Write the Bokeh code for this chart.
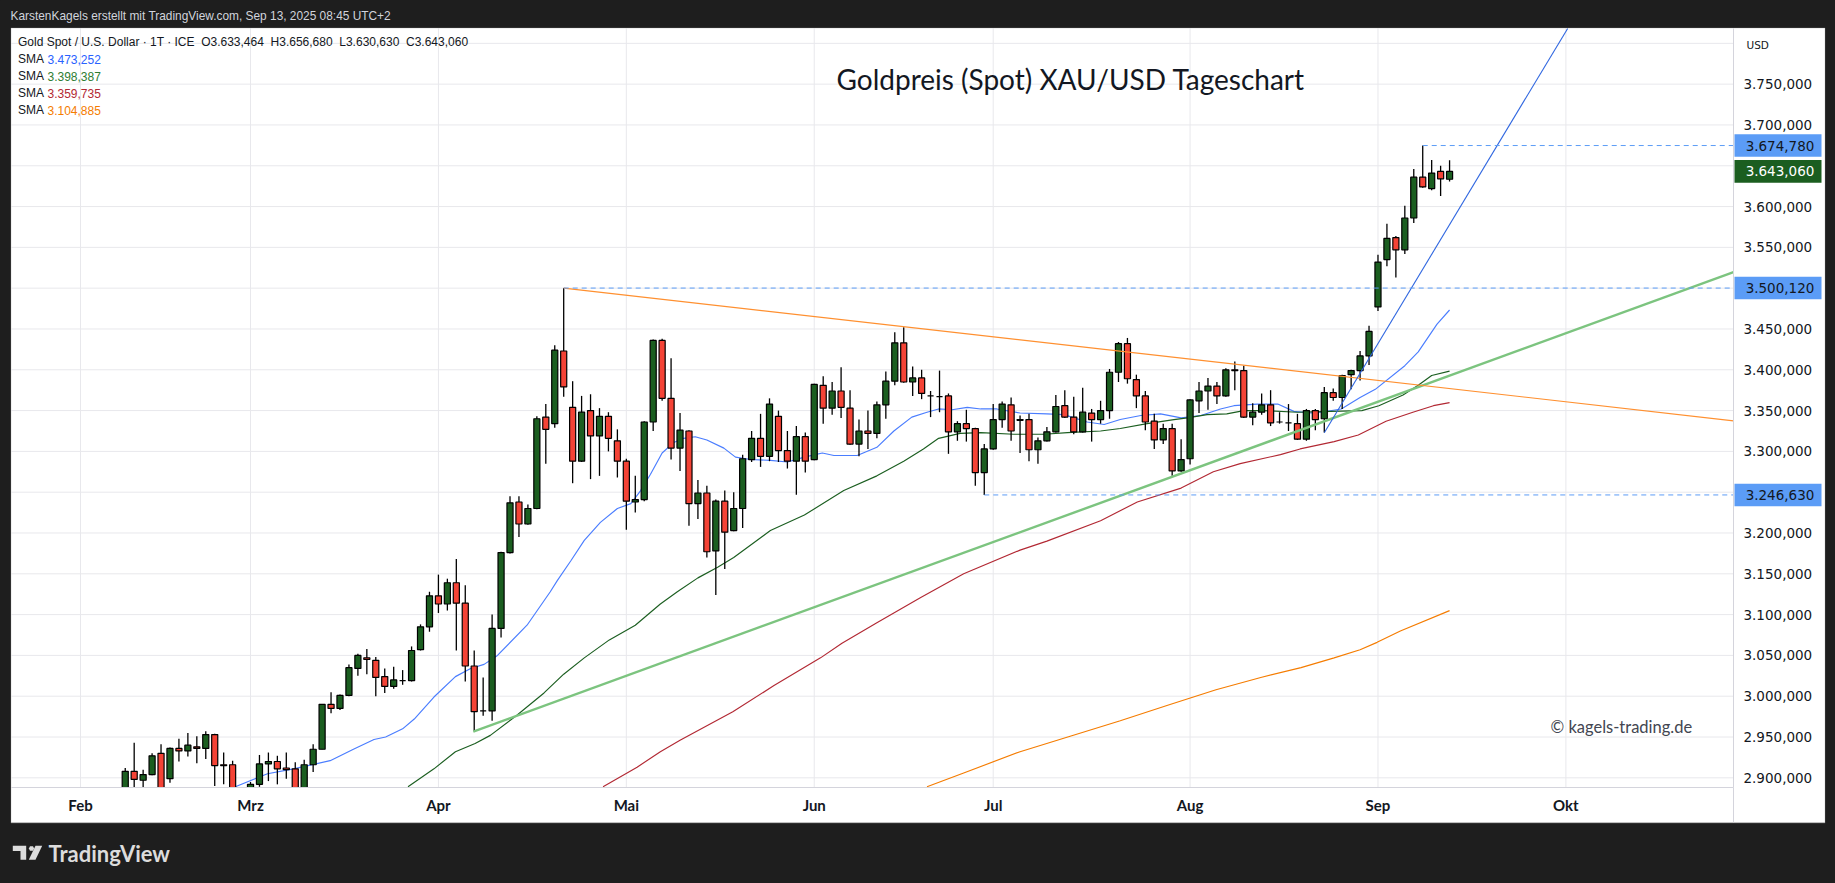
from bokeh.plotting import figure
from bokeh.models import (BoxAnnotation, Label, PolyAnnotation, FixedTicker, Range1d, ColumnDataSource, LinearAxis)
from bokeh.embed import file_html
from bokeh.resources import INLINE

# ---------- data ----------
first_bar = 5
opens = [2885,2908,2897,2904,2930,2899,2936,2933,2938,2936,2953,2916,2916,2878,2885,2892,2917,2920,2912,2911,2885,2916,2935,2990,2985,3001,3034,3047,3044,3024,3012,3019,3019,3057,3085,3123,3113,3139,3114,3037,2982,2982,3083,
3176,3238,3211,3230,3342,3334,3423,3354,3288,3350,3319,3343,3313,3288,3238,3241,3336,3436,3365,3304,3325,3236,3249,3178,3239,3203,3230,3290,3316,3294,3343,3301,3288,3318,3290,3381,3353,3374,3353,3309,3325,3322,3357,3386,
3433,3385,3390,3368,3367,3368,3324,3334,3328,3274,3303,3339,3357,3339,3339,3302,3313,3324,3356,3342,3324,3347,3339,3350,3397,3432,3388,3368,3337,3314,3328,3276,3291,3362,3374,3380,3368,3400,3399,3342,3348,3357,3336,3335,3334,3315,3350,3340,
3372,3366,3394,3399,3417,3477,3535,3562,3547,3586,3636,3622,3643,3633.464]
highs = [2912,2943,2910,2930,2941,2937,2948,2955,2951,2957,2954,2931,2921,2884,2895,2928,2931,2927,2931,2919,2922,2941,2990,3005,3002,3039,3052,3058,3048,3034,3036,3032,3061,3088,3128,3149,3144,3168,3136,3056,3023,3100,3177,
3245,3245,3235,3343,3358,3430,3500.12,3386,3368,3370,3353,3348,3327,3291,3270,3337,3437,3438,3414,3347,3326,3265,3258,3241,3252,3250,3296,3325,3346,3365,3350,3325,3331,3323,3383,3392,3385,3403,3375,3339,3350,3361,3398,3446,
3452,3404,3400,3374,3399,3371,3337,3351,3329,3309,3358,3361,3366,3344,3346,3317,3330,3369,3375,3367,3378,3352,3362,3401,3434,3439,3394,3374,3346,3334,3334,3315,3364,3385,3390,3385,3402,3410,3405,3359,3371,3375,3348,3358,3346,3352,3352,3379,
3377,3394,3400,3423,3454,3541,3579,3564,3601,3646,3674.78,3657,3650,3656.68]
lows = [2880,2885,2885,2903,2877,2894,2920,2926,2918,2923,2890,2892,2877,2868,2883,2889,2896,2892,2899,2880,2883,2907,2935,2979,2983,3000,3025,3027,3000,3004,3009,3014,3018,3056,3079,3102,3105,3056,3018,2957,2976,2970,3072,
3175,3195,3210,3229,3285,3329,3367,3261,3287,3266,3270,3300,3268,3204,3225,3239,3325,3362,3290,3276,3209,3217,3170,3124,3156,3202,3206,3287,3281,3288,3287,3279,3247,3274,3289,3334,3345,3341,3308,3294,3303,3316,3340,3381,
3384,3368,3364,3342,3348,3297,3313,3312,3258,3246.63,3302,3329,3313,3298,3288,3285,3312,3323,3341,3321,3323,3312,3334,3340,3385,3383,3353,3326,3303,3309,3270,3275,3284,3347,3351,3358,3367,3375,3341,3332,3345,3331,3334,3325,3314,3313,3326,3323,
3362,3352,3376,3387,3406,3472,3527,3513,3542,3580,3623,3620,3613,3630.63]
closes = [2908,2898,2904,2927,2881,2936,2933,2940,2936,2953,2915,2915,2881,2872,2892,2917,2920,2911,2910,2883,2916,2935,2990,2985,3001,3035,3050,3045,3023,3012,3020,3019,3056,3085,3123,3113,3139,3114,3037,2981,2982,3083,3176,
3237,3211,3230,3340,3327,3424,3379,3288,3348,3319,3343,3316,3288,3239,3241,3336,3436,3365,3304,3326,3236,3249,3177,3239,3201,3230,3291,3316,3294,3358,3301,3288,3318,3288,3382,3353,3374,3354,3309,3325,3322,3357,3386,3433,
3385,3390,3371,3368,3367,3324,3334,3328,3274,3303,3339,3358,3325,3338,3302,3313,3324,3355,3342,3324,3348,3339,3350,3397,3432,3389,3368,3336,3314,3328,3276,3290,3363,3374,3380,3368,3400,3399,3342,3348,3357,3335,3336,3335,3315,3350,3339,3372,
3366,3393,3399,3417,3447,3532,3561,3547,3586,3636,3624,3641,3634,3643.06]

sma20_x = [17.3,20.9,23.8,27.9,30.5,32.8,34.1,36,37.3,39.5,41.9,43.6,45.1,46.6,49.9,52.5,53.3,54.8,56.3,58.1,60,61.5,62.6,63.7,65,66.3,67.4,68.7,70,71.9,73.2,74.9,77.1,79,80.9,82.9,84.2,86.8,89,90.9,92.9,94.6,95.9,97.4,99.1,100.6,102.4,105,108,109.9,112.5,114.4,116.2,118.5,120.7,123,125.2,127.4,128.9,131.5,133.8,135.6,137.5,138.6,140.9,143,144.7,148,149.5,151.6,153]
sma20_y = [2889,2905,2911,2921,2935,2947,2950,2960,2972,2999,3024,3034,3039,3050,3087,3128,3142,3166,3191,3213,3230,3236,3252,3272,3298,3311,3316,3318,3314,3304,3293,3290,3289,3287,3293,3298,3295,3295,3305,3325,3342,3348,3352,3351,3354,3352,3352,3347,3346,3345,3336,3333,3339,3344,3346,3341,3344,3352,3356,3358,3358,3349,3347,3348,3352,3366,3376,3405,3422,3456,3473.252]
sma50_x = [36.6,39.5,41.9,44.1,45.8,48.8,51.8,54,56.3,59.1,62,64.8,66.7,69,71.2,73,77.1,80.9,85.3,89,92,94.2,95.9,98.3,100.6,104.3,107.7,110.3,114,116.2,119.2,122.2,123.7,125.9,128.1,130,132.2,136,139.7,143.2,145.1,147.8,149.5,151,153]
sma50_y = [2889,2911,2932,2942,2952,2977,3004,3027,3047,3069,3087,3113,3128,3145,3158,3170,3203,3222,3252,3270,3288,3303,3316,3322,3323,3321,3321,3323,3325,3328,3334,3339,3341,3345,3346,3350,3350,3348,3349,3350,3356,3369,3381,3393,3398.387]
sma100_x = [58.4,62.2,64.8,67,72.9,77.5,82.7,85.1,89,93.9,98.7,105,108,114,118.1,123,126.6,129.6,134.1,136.3,140.1,142.8,145.9,148.9,151.2,153]
sma100_y = [2889,2913,2932,2946,2981,3013,3047,3065,3090,3121,3150,3179,3190,3215,3238,3255,3275,3285,3296,3303,3312,3320,3337,3348,3356,3359.735]
sma200_x = [94.6,98.7,105,110.6,116.2,121.5,126.9,131.9,136.4,140.1,143,144.9,147.5,153]
sma200_y = [2889,2906,2932,2951,2970,2989,3008,3023,3035,3047,3057,3066,3080,3104.885]

trend_green_x, trend_green_y = [43.9, 184.73], [2956.7, 3519.6]
trend_orange_x, trend_orange_y = [54, 184.73], [3500.12, 3337.5]
trend_blue_x, trend_blue_y = [139, 166.2], [3322.8, 3818.3]
level_starts = [150, 54, 101]
level_values = [3674.78, 3500.12, 3246.63]
last_close = 3643.06

month_pos = [0, 19, 40, 61, 82, 102, 124, 145, 166]
month_names = ["Feb", "Mrz", "Apr", "Mai", "Jun", "Jul", "Aug", "Sep", "Okt"]
price_ticks = list(range(2900, 3801, 50))
price_hidden = [3250, 3500, 3650, 3800]

legend_head = "Gold Spot / U.S. Dollar · 1T · ICE\u00a0\u00a0O3.633,464\u00a0\u00a0H3.656,680\u00a0\u00a0L3.630,630\u00a0\u00a0C3.643,060"
legend_values = ["3.473,252", "3.398,387", "3.359,735", "3.104,885"]
legend_colors = ["#2962ff", "#2e7d32", "#b22833", "#f57c00"]

def fmt(v):
    s = f"{v:,.3f}"
    return s.replace(",", "#").replace(".", ",").replace("#", ".")

# ---------- figure: the frame fills the page, chart panel drawn inside it ----------
BG = "#1e1e1e"
W, H = 1835, 883
FL, FT, FR, FB = 11, 28, 1733, 787   # chart panel edges in pixels
X0, X1 = -7.71, 184.73               # data range of the chart panel
Y0, Y1 = 2888.1, 3818.3

p = figure(width=W, height=H, output_backend="svg", toolbar_location=None,
           x_range=Range1d(-8.94, 196.13), y_range=Range1d(2770.5, 3852.5),
           x_axis_location=None, y_axis_location=None, tools="",
           min_border_left=0, min_border_top=0, min_border_right=0, min_border_bottom=0)
p.grid.visible = False
p.border_fill_color = BG
p.background_fill_color = BG
p.outline_line_color = None

GRID = "#e8e8ec"
AX = "#d4d4dc"
AXFONT = "DejaVu Sans"
LEGFONT = "Liberation Sans"
FONT = "Lato"

def box(l, t, r, b, fill, level="underlay", line=None):
    a = BoxAnnotation(left=l, right=r, top=t, bottom=b,
                      left_units="canvas", right_units="canvas", top_units="canvas", bottom_units="canvas",
                      fill_color=fill, fill_alpha=1 if fill else 0, line_color=line, level=level)
    p.add_layout(a)
    return a

box(10.5, 27.5, 1824.5, 822, "#ffffff", level="image")

# grid lines, confined to the chart panel
p.segment(x0=month_pos, y0=[Y0] * len(month_pos), x1=month_pos, y1=[Y1] * len(month_pos), line_color=GRID, line_width=1)
p.segment(x0=[X0] * len(price_ticks), y0=price_ticks, x1=[X1] * len(price_ticks), y1=price_ticks, line_color=GRID, line_width=1)

# SMAs below the candles
for xs, ys, col in [(sma20_x, sma20_y, "#4a7dff"), (sma50_x, sma50_y, "#1b5e20"),
                    (sma100_x, sma100_y, "#b22833"), (sma200_x, sma200_y, "#f57c00")]:
    p.line(xs, ys, line_color=col, line_width=1.15)

bars = ColumnDataSource(dict(
    x=list(range(first_bar, first_bar + len(opens))), o=opens, h=highs, l=lows, c=closes,
    color=["#1b5e20" if c >= o else "#f44336" for o, c in zip(opens, closes)],
))
p.segment("x", "h", "x", "l", source=bars, line_color="#000000", line_width=1.3)
p.vbar("x", top="o", bottom="c", width=0.68, source=bars, fill_color="color", line_color="#000000", line_width=1.2)

# drawings
p.line(trend_green_x, trend_green_y, line_color="#7cc47f", line_width=2.4)
p.line(trend_orange_x, trend_orange_y, line_color="#ff9030", line_width=1.2)
p.line(trend_blue_x, trend_blue_y, line_color="#2f66e0", line_width=1.1)
for s, v in zip(level_starts, level_values):
    p.line([s, X1], [v, v], line_color="#5b9cf6", line_width=1, line_dash=[5, 4])

# white strip of the time axis hides whatever falls below the chart panel
box(10.5, FB, 1824.5, 822, "#ffffff", level="annotation")

yax = LinearAxis(ticker=FixedTicker(ticks=price_ticks), fixed_location=X1, bounds=(Y0, Y1), level="overlay")
yax.major_label_overrides = {t: ("" if t in price_hidden else fmt(t)) for t in price_ticks}
yax.major_tick_line_color = None
yax.minor_tick_line_color = None
yax.axis_line_color = AX
yax.major_label_text_font = AXFONT
yax.major_label_text_font_size = "13.5px"
yax.major_label_text_color = "#131722"
yax.major_label_standoff = 4
p.add_layout(yax, "right")
xax = LinearAxis(ticker=FixedTicker(ticks=month_pos), fixed_location=Y0, bounds=(X0, X1), level="overlay")
xax.major_label_overrides = dict(zip(month_pos, month_names))
xax.major_tick_line_color = None
xax.minor_tick_line_color = None
xax.axis_line_color = AX
xax.major_label_text_font = FONT
xax.major_label_text_font_style = "bold"
xax.major_label_text_font_size = "15px"
xax.major_label_text_color = "#131722"
xax.major_label_standoff = 2
p.add_layout(xax, "below")

# price tags
PX = 0.816  # px per price unit
def tag(v, fill, txt):
    half = 11.3 / PX
    a = BoxAnnotation(left=1734, right=1821, top=v + half, bottom=v - half,
                      left_units="canvas", right_units="canvas", fill_color=fill, fill_alpha=1,
                      line_color=None, level="overlay")
    p.add_layout(a)
    p.add_layout(Label(x=1779.5, y=v, x_units="canvas", y_units="data", text=fmt(v), text_color=txt,
                       text_font=AXFONT, text_font_size="13.5px",
                       text_align="center", text_baseline="middle", level="overlay"))
for v in level_values:
    tag(v, "#5b9cf6", "#131722")
tag(last_close, "#1b5e20", "#ffffff")

def label(x, y, text, size, color, font=FONT, style="normal", align="left"):
    p.add_layout(Label(x=x, y=y, x_units="canvas", y_units="canvas", text=text, text_color=color,
                       text_font=font, text_font_size=size, text_font_style=style,
                       text_align=align, text_baseline="middle", level="overlay"))

label(10, 15.5, "KarstenKagels erstellt mit TradingView.com, Sep 13, 2025 08:45 UTC+2", "11.9px", "#d1d4dc", font=LEGFONT)
label(17.5, 41.5, legend_head, "12px", "#131722", font=LEGFONT)
for i, (val, col) in enumerate(zip(legend_values, legend_colors)):
    label(17.5, 58.5 + i * 17, "SMA", "12px", "#131722", font=LEGFONT)
    label(47, 58.5 + i * 17, val, "12px", col, font=LEGFONT)
label(1746, 44, "USD", "10.5px", "#131722", font=AXFONT)
label(836, 78, "Goldpreis (Spot) XAU/USD Tageschart", "28px", "#131722")
label(1550, 726.5, "© kagels-trading.de", "16.5px", "#434651")
label(48, 853, "TradingView", "22px", "#dcdcdc", style="bold")

# price / time axis divider and chart frame
box(FR - 0.5, FB, FR + 0.5, 822, AX, level="overlay")
box(10.5, 27.5, 1824.5, 822.5, None, level="overlay", line="#9a9a9a")

# TradingView logo
def poly(pts):
    p.add_layout(PolyAnnotation(xs=[a for a, _ in pts], ys=[b for _, b in pts],
                                xs_units="canvas", ys_units="canvas",
                                fill_color="#dcdcdc", fill_alpha=1, line_color=None, level="overlay"))
poly([(12.3, 845.3), (25.7, 845.3), (25.7, 859.3), (20, 859.3), (20, 850.5), (12.3, 850.5)])
poly([(41.7, 845.3), (35, 859.3), (28.3, 859.3), (35, 845.3)])
poly([(29.5, 845.8), (32.5, 845.8), (33.6, 848), (32.5, 850.2), (29.5, 850.2), (28.4, 848)])

html = file_html(p, INLINE)
html = html.replace("</head>", "<style>html,body{background:#1e1e1e;margin:0;padding:0;overflow:hidden}</style></head>")
open("out.html", "w").write(html)
